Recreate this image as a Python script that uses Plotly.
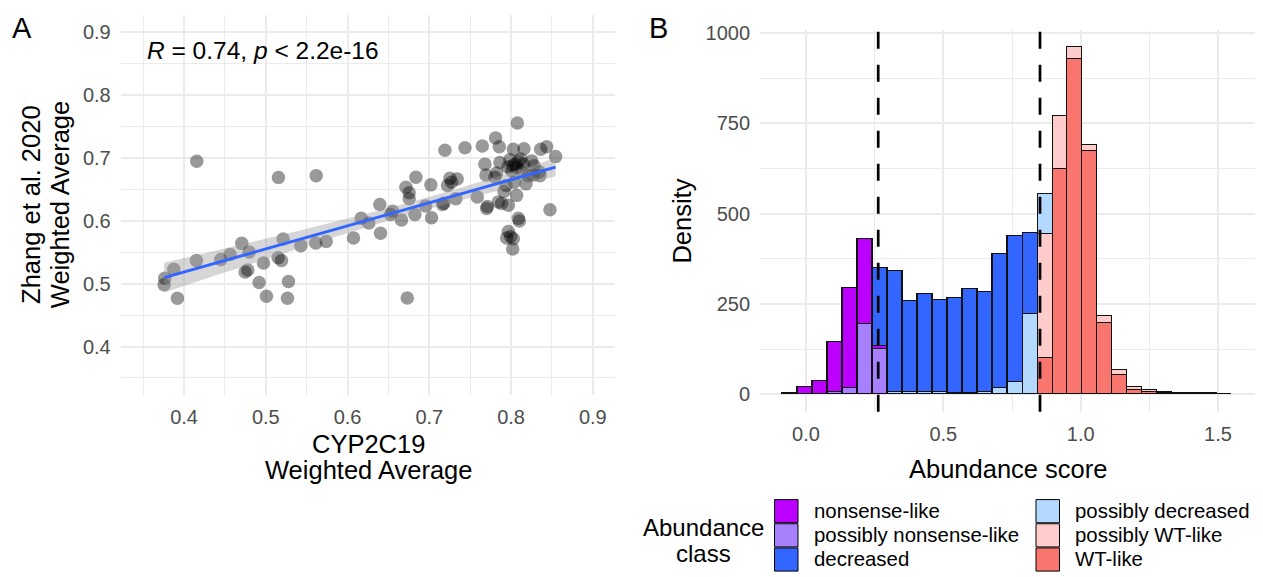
import numpy as np
import plotly.graph_objects as go

W, H = 1263, 577

# ---------------- Panel A data: CYP2C19 vs Zhang et al. 2020 weighted averages
cyp2c19_avg = [
    0.3756, 0.3764, 0.3874, 0.3919, 0.4155, 0.4151, 0.4449, 0.4563, 0.4706, 0.4796,
    0.4747, 0.4780, 0.4972, 0.4918, 0.5008, 0.5155, 0.5212, 0.5151, 0.5192, 0.5277,
    0.5265, 0.5428, 0.5616, 0.5612, 0.5739, 0.6073, 0.6167, 0.6260, 0.6395, 0.6403,
    0.6550, 0.6526, 0.6660, 0.6730, 0.6714, 0.6754, 0.6754, 0.6836, 0.6824, 0.6954,
    0.7019, 0.7027, 0.7162, 0.7178, 0.7191, 0.7252, 0.7272, 0.7341, 0.7223, 0.7325,
    0.7436, 0.7587, 0.7648, 0.7680, 0.7693, 0.7701, 0.7811, 0.7856, 0.7823, 0.7803,
    0.7864, 0.7844, 0.7885, 0.7913, 0.7938, 0.7967, 0.7967, 0.7946, 0.7995, 0.8028,
    0.8020, 0.8048, 0.8068, 0.8007, 0.8089, 0.8077, 0.8040, 0.8068, 0.8089, 0.8101,
    0.8028, 0.8020, 0.8158, 0.8150, 0.8183, 0.8252, 0.8281, 0.8272, 0.8346, 0.8362,
    0.8436, 0.8545, 0.8476, 0.8211, 0.8354, 0.7985, 0.8120, 0.7960, 0.8130, 0.7710,
]
zhang_avg = [
    0.4983, 0.5088, 0.5229, 0.4769, 0.6950, 0.5371, 0.5386, 0.5465, 0.5643, 0.5507,
    0.5188, 0.5220, 0.5329, 0.5020, 0.4800, 0.6690, 0.5711, 0.5413, 0.5371, 0.5036,
    0.4769, 0.5606, 0.6721, 0.5648, 0.5674, 0.5727, 0.6041, 0.5967, 0.6260, 0.5805,
    0.6155, 0.6103, 0.6014, 0.4774, 0.6537, 0.6447, 0.6353, 0.6694, 0.6103, 0.6239,
    0.6574, 0.6051, 0.6260, 0.6280, 0.7124, 0.6679, 0.6616, 0.6668, 0.6564, 0.6353,
    0.7166, 0.6380, 0.7192, 0.6904, 0.6731, 0.6197, 0.7322, 0.7181, 0.6762, 0.6694,
    0.6930, 0.6302, 0.6276, 0.6470, 0.6564, 0.6250, 0.5831, 0.5727, 0.5753, 0.7140,
    0.6878, 0.6904, 0.6852, 0.6800, 0.6956, 0.7558, 0.6616, 0.6407, 0.6041, 0.5999,
    0.5716, 0.5554, 0.7150, 0.6904, 0.6590, 0.6956, 0.6878, 0.6731, 0.6783, 0.7140,
    0.7181, 0.7024, 0.6177, 0.6721, 0.6721, 0.6975, 0.6985, 0.6860, 0.6800, 0.6230,
]
cor_label = "<i>R</i> = 0.74, <i>p</i> &lt; 2.2e-16"
a_ticks = [0.4, 0.5, 0.6, 0.7, 0.8, 0.9]
a_tick_text = ["0.4", "0.5", "0.6", "0.7", "0.8", "0.9"]
a_minor = [0.35, 0.45, 0.55, 0.65, 0.75, 0.85]

# ---------------- Panel B data: abundance score histogram (30 bins), stacked by class
bin_start = -0.085
bin_width = 0.0546
classes = ["nonsense-like", "possibly nonsense-like", "decreased",
           "possibly decreased", "possibly WT-like", "WT-like"]
nonsense_like = [3, 19, 36, 138, 278, 235, 9, 0, 0, 0, 0, 0, 0, 0, 0,
                 0, 0, 0, 0, 0, 0, 0, 0, 0, 0, 0, 0, 0, 0, 0]
possibly_nonsense_like = [0, 0, 0, 5, 16, 194, 125, 0, 0, 0, 0, 0, 0, 0, 0,
                          0, 0, 0, 0, 0, 0, 0, 0, 0, 0, 0, 0, 0, 0, 0]
decreased = [0, 0, 0, 0, 0, 0, 216, 335, 253, 271, 253, 263, 287, 278, 372,
             403, 224, 0, 0, 0, 0, 0, 0, 0, 0, 0, 0, 0, 0, 0]
possibly_decreased = [0, 0, 0, 0, 0, 0, 0, 5, 5, 5, 7, 4, 4, 5, 16,
                      34, 221, 112, 0, 0, 0, 0, 0, 0, 0, 0, 0, 0, 0, 0]
possibly_wt_like = [0, 0, 0, 0, 0, 0, 0, 0, 0, 0, 0, 0, 0, 0, 0,
                    0, 0, 343, 149, 33, 16, 19, 16, 8, 3, 4, 0, 0, 0, 0]
wt_like = [0, 0, 0, 0, 0, 0, 0, 0, 0, 0, 0, 0, 0, 0, 0,
           0, 0, 100, 622, 927, 674, 198, 52, 12, 7, 3, 2, 2, 2, 1]
thresholds = [0.263, 0.852]
b_xticks = [0.0, 0.5, 1.0, 1.5]
b_xtick_text = ["0.0", "0.5", "1.0", "1.5"]
b_xminor = [0.25, 0.75, 1.25]
b_yticks = [0, 250, 500, 750, 1000]
b_ytick_text = ["0", "250", "500", "750", "1000"]
b_yminor = [125, 375, 625, 875]

class_colors = {
    "nonsense-like": "#BB00FF",
    "possibly nonsense-like": "#A680FF",
    "decreased": "#3366FF",
    "possibly decreased": "#B3D9FF",
    "possibly WT-like": "#FFCCCC",
    "WT-like": "#F8766D",
}
class_counts = {
    "nonsense-like": nonsense_like,
    "possibly nonsense-like": possibly_nonsense_like,
    "decreased": decreased,
    "possibly decreased": possibly_decreased,
    "possibly WT-like": possibly_wt_like,
    "WT-like": wt_like,
}
# bottom-to-top stacking order of the bars
stack_order = ["WT-like", "possibly WT-like", "possibly decreased",
               "possibly nonsense-like", "nonsense-like", "decreased"]

FONT = "Liberation Sans, Arial, Helvetica, sans-serif"
GRID = "#EBEBEB"
TICK_COLOR = "#4D4D4D"


def px(x):
    return x / W


def py(y):
    return 1 - y / H


fig = go.Figure()

# ---- Panel A: points, linear fit and its 95% confidence band
xa = np.array(cyp2c19_avg)
ya = np.array(zhang_avg)
fig.add_trace(go.Scatter(
    x=xa, y=ya, mode="markers", xaxis="x", yaxis="y",
    marker=dict(size=13.5, color="rgba(0,0,0,0.4)", line=dict(width=0)),
    showlegend=False, hoverinfo="skip"))

n = len(xa)
slope, intercept = np.polyfit(xa, ya, 1)
resid = ya - (slope * xa + intercept)
s = np.sqrt(np.sum(resid ** 2) / (n - 2))
sxx = np.sum((xa - xa.mean()) ** 2)
xg = np.linspace(xa.min(), xa.max(), 80)
fit = slope * xg + intercept
se = s * np.sqrt(1 / n + (xg - xa.mean()) ** 2 / sxx)
tq = 1.984
fig.add_trace(go.Scatter(
    x=np.concatenate([xg, xg[::-1]]),
    y=np.concatenate([fit + tq * se, (fit - tq * se)[::-1]]),
    fill="toself", fillcolor="rgba(153,153,153,0.4)", line=dict(width=0),
    mode="lines", xaxis="x", yaxis="y", showlegend=False, hoverinfo="skip"))
fig.add_trace(go.Scatter(
    x=xg, y=fit, mode="lines", line=dict(color="#3366FF", width=3),
    xaxis="x", yaxis="y", showlegend=False, hoverinfo="skip"))

# ---- Panel B: stacked histogram
centers = [bin_start + bin_width * (i + 0.5) for i in range(len(wt_like))]
for cls in stack_order:
    fig.add_trace(go.Bar(
        x=centers, y=class_counts[cls], width=bin_width, name=cls,
        marker=dict(color=class_colors[cls], line=dict(color="#111111", width=1.6)),
        xaxis="x2", yaxis="y2", showlegend=False, hoverinfo="skip"))

shapes = []
for t in thresholds:
    shapes.append(dict(type="line", xref="x2", yref="y2 domain", x0=t, x1=t, y0=0, y1=1,
                       line=dict(color="black", width=2.7, dash="17px,16px")))


def axis_common(**kw):
    d = dict(showgrid=True, gridcolor=GRID, gridwidth=1.8, zeroline=False, showline=False,
             ticks="", tickfont=dict(family=FONT, size=20, color=TICK_COLOR), fixedrange=True)
    d.update(kw)
    return d


fig.update_layout(
    width=W, height=H, margin=dict(l=0, r=0, t=0, b=0),
    paper_bgcolor="white", plot_bgcolor="white",
    barmode="stack", bargap=0, showlegend=False,
    font=dict(family=FONT, color="black"),
    xaxis=axis_common(domain=[px(120.7), px(615.3)], range=[0.3225, 0.9275],
                      tickvals=a_ticks, ticktext=a_tick_text, anchor="y", ticklabelstandoff=8,
                      minor=dict(tickvals=a_minor, showgrid=True, gridcolor=GRID, gridwidth=1.0)),
    yaxis=axis_common(domain=[py(392.7), py(7.3)], range=[0.3225, 0.9275],
                      tickvals=a_ticks, ticktext=a_tick_text, anchor="x", ticklabelstandoff=9,
                      minor=dict(tickvals=a_minor, showgrid=True, gridcolor=GRID, gridwidth=1.0)),
    xaxis2=axis_common(domain=[px(760.1), px(1255.1)], range=[-0.167, 1.635],
                       tickvals=b_xticks, ticktext=b_xtick_text, anchor="y2", ticklabelstandoff=8,
                       minor=dict(tickvals=b_xminor, showgrid=True, gridcolor=GRID, gridwidth=1.0)),
    yaxis2=axis_common(domain=[py(409.3), py(22.5)], range=[-48, 1008],
                       tickvals=b_yticks, ticktext=b_ytick_text, anchor="x2", ticklabelstandoff=9,
                       minor=dict(tickvals=b_yminor, showgrid=True, gridcolor=GRID, gridwidth=1.0)),
)

ann = []


def text(x, y, t, size, xanchor="center", angle=0, color="black"):
    ann.append(dict(x=px(x), y=py(y), xref="paper", yref="paper", text=t, showarrow=False,
                    xanchor=xanchor, yanchor="middle", textangle=angle,
                    font=dict(family=FONT, size=size, color=color)))


# panel tags
text(22, 20, "A", 29)
text(658, 20.5, "B", 29)
# correlation label
text(145, 43.3, cor_label, 24.5, xanchor="left")
# panel A axis titles
text(368.5, 441.7, "CYP2C19", 25.5)
text(368.5, 468.3, "Weighted Average", 25.5)
text(31.7, 200, "Zhang et al. 2020", 25.5, angle=-90)
text(60, 200, "Weighted Average", 25.5, angle=-90)
# panel B axis titles
text(1007.6, 467.5, "Abundance score", 25.5)
text(681.7, 215.9, "Density", 25.5, angle=-90)

# legend for abundance class (two columns of three keys)
text(703, 527, "Abundance", 24)
text(703, 553, "class", 24)
key_w, key_h = 23.5, 24.5
key_top = 498
columns = [(774.5, 811.6, classes[:3]), (1036, 1073, classes[3:])]
for kx, lx, names in columns:
    for i, cls in enumerate(names):
        y0 = key_top + i * key_h
        shapes.append(dict(type="rect", xref="paper", yref="paper",
                           x0=px(kx), x1=px(kx + key_w), y0=py(y0 + key_h - 0.5), y1=py(y0 + 0.5),
                           fillcolor=class_colors[cls], line=dict(color="black", width=1)))
        text(lx, y0 + key_h / 2, cls, 20.4, xanchor="left")

fig.update_layout(annotations=ann, shapes=shapes)
fig.write_html("out.html")
